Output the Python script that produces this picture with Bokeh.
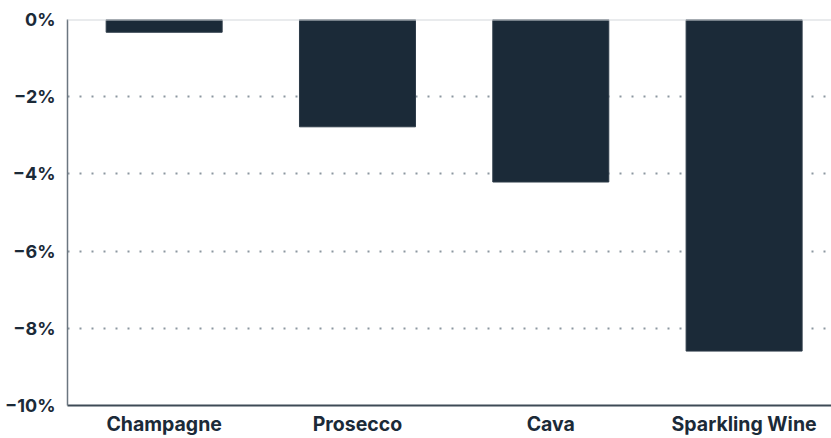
from bokeh.plotting import figure
from bokeh.models import ColumnDataSource, Range1d, FixedTicker, Span
from bokeh.embed import file_html
from bokeh.resources import INLINE

categories = ["Champagne", "Prosecco", "Cava", "Sparkling Wine"]
values = [-0.33, -2.78, -4.21, -8.59]
y_ticks = [0, -2, -4, -6, -8, -10]
y_tick_labels = ["0%", "\u22122%", "\u22124%", "\u22126%", "\u22128%", "\u221210%"]

NAVY = "#1b2a38"

src = ColumnDataSource(dict(x=list(range(len(categories))), top=[0] * len(values), bottom=values))

p = figure(width=831, height=438, output_backend="svg", toolbar_location=None,
           x_range=Range1d(-0.5, 3.452), y_range=Range1d(-10, 0),
           min_border_left=67, min_border_top=19, min_border_right=0, min_border_bottom=32)
p.outline_line_color = None
p.background_fill_color = "white"

# zero line
p.add_layout(Span(location=0, dimension="width", line_color="#d3d8dc", line_width=2))

p.vbar(x="x", width=0.6, top="top", bottom="bottom", source=src,
       fill_color=NAVY, line_color="#2c3a47", line_width=1)

p.xaxis.ticker = FixedTicker(ticks=list(range(len(categories))))
p.xaxis.major_label_overrides = {i: c for i, c in enumerate(categories)}
p.yaxis.ticker = FixedTicker(ticks=y_ticks)
p.yaxis.major_label_overrides = {t: l for t, l in zip(y_ticks, y_tick_labels)}

for ax in (p.xaxis, p.yaxis):
    ax.major_tick_line_color = None
    ax.minor_tick_line_color = None
    ax.major_label_text_font = "Inter"
    ax.major_label_text_color = NAVY
    ax.major_label_text_font_style = "bold"

p.xaxis.major_label_text_font_size = "19.5px"
p.yaxis.major_label_text_font_size = "18px"
p.xaxis.major_label_standoff = 0
p.yaxis.major_label_standoff = 6
p.xaxis.axis_line_color = "#3e4b56"
p.xaxis.axis_line_width = 2
p.yaxis.axis_line_color = "#6b7680"
p.yaxis.axis_line_width = 1.5

p.xgrid.grid_line_color = None
p.ygrid.grid_line_color = "#8c97a0"
p.ygrid.grid_line_width = 2
p.ygrid.grid_line_dash = "2 10"
p.ygrid.level = "underlay"

open("out.html", "w").write(file_html(p, INLINE))
